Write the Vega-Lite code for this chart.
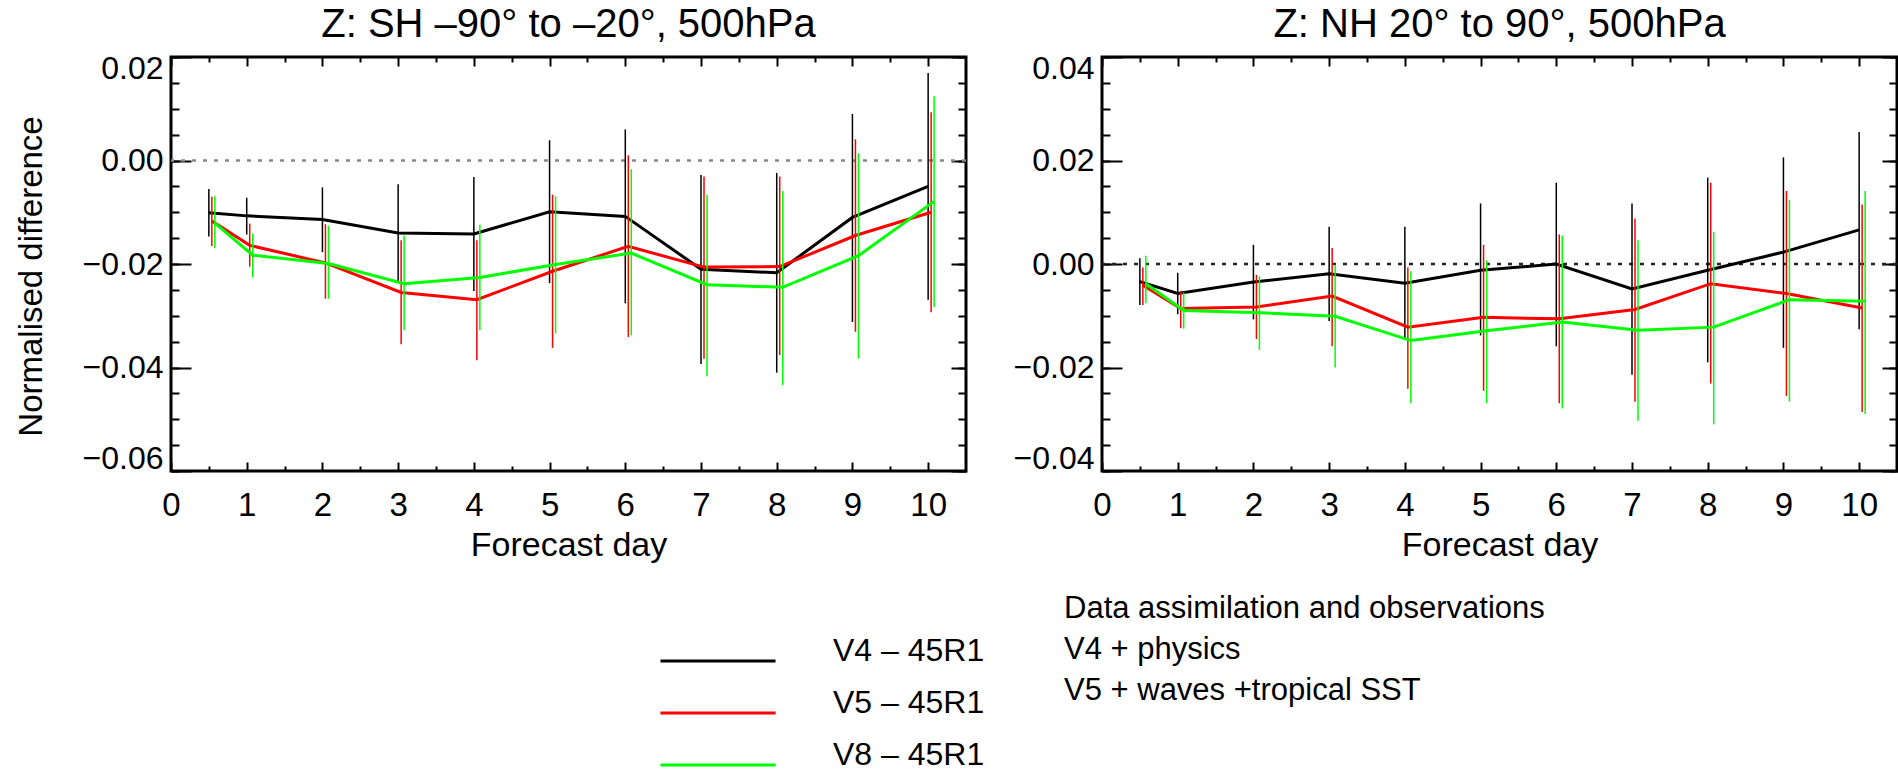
{
  "$schema": "https://vega.github.io/schema/vega-lite/v6.json",
  "padding": {"left": 13, "top": 3, "right": 0, "bottom": 0},
  "spacing": 42,
  "data": {"values": [
    {"panel":"SH","series":"V4 – 45R1","day":0.5,"value":-0.0101,"lo":-0.0147,"hi":-0.0055},
    {"panel":"SH","series":"V4 – 45R1","day":1,"value":-0.0107,"lo":-0.0143,"hi":-0.0072},
    {"panel":"SH","series":"V4 – 45R1","day":2,"value":-0.0114,"lo":-0.0177,"hi":-0.0052},
    {"panel":"SH","series":"V4 – 45R1","day":3,"value":-0.0140,"lo":-0.0234,"hi":-0.0046},
    {"panel":"SH","series":"V4 – 45R1","day":4,"value":-0.0142,"lo":-0.0252,"hi":-0.0032},
    {"panel":"SH","series":"V4 – 45R1","day":5,"value":-0.0099,"lo":-0.0237,"hi":0.0039},
    {"panel":"SH","series":"V4 – 45R1","day":6,"value":-0.0108,"lo":-0.0276,"hi":0.0060},
    {"panel":"SH","series":"V4 – 45R1","day":7,"value":-0.0210,"lo":-0.0393,"hi":-0.0028},
    {"panel":"SH","series":"V4 – 45R1","day":8,"value":-0.0217,"lo":-0.0410,"hi":-0.0024},
    {"panel":"SH","series":"V4 – 45R1","day":9,"value":-0.0110,"lo":-0.0312,"hi":0.0090},
    {"panel":"SH","series":"V4 – 45R1","day":10,"value":-0.0050,"lo":-0.0269,"hi":0.0169},
    {"panel":"SH","series":"V5 – 45R1","day":0.5,"value":-0.0117,"lo":-0.0165,"hi":-0.0070},
    {"panel":"SH","series":"V5 – 45R1","day":1,"value":-0.0164,"lo":-0.0205,"hi":-0.0122},
    {"panel":"SH","series":"V5 – 45R1","day":2,"value":-0.0198,"lo":-0.0267,"hi":-0.0123},
    {"panel":"SH","series":"V5 – 45R1","day":3,"value":-0.0255,"lo":-0.0355,"hi":-0.0154},
    {"panel":"SH","series":"V5 – 45R1","day":4,"value":-0.0269,"lo":-0.0386,"hi":-0.0154},
    {"panel":"SH","series":"V5 – 45R1","day":5,"value":-0.0214,"lo":-0.0362,"hi":-0.0066},
    {"panel":"SH","series":"V5 – 45R1","day":6,"value":-0.0166,"lo":-0.0341,"hi":0.0010},
    {"panel":"SH","series":"V5 – 45R1","day":7,"value":-0.0206,"lo":-0.0383,"hi":-0.0031},
    {"panel":"SH","series":"V5 – 45R1","day":8,"value":-0.0205,"lo":-0.0376,"hi":-0.0031},
    {"panel":"SH","series":"V5 – 45R1","day":9,"value":-0.0145,"lo":-0.0331,"hi":0.0041},
    {"panel":"SH","series":"V5 – 45R1","day":10,"value":-0.0100,"lo":-0.0293,"hi":0.0093},
    {"panel":"SH","series":"V8 – 45R1","day":0.5,"value":-0.0121,"lo":-0.0169,"hi":-0.0069},
    {"panel":"SH","series":"V8 – 45R1","day":1,"value":-0.0183,"lo":-0.0226,"hi":-0.0141},
    {"panel":"SH","series":"V8 – 45R1","day":2,"value":-0.0199,"lo":-0.0267,"hi":-0.0126},
    {"panel":"SH","series":"V8 – 45R1","day":3,"value":-0.0238,"lo":-0.0328,"hi":-0.0145},
    {"panel":"SH","series":"V8 – 45R1","day":4,"value":-0.0226,"lo":-0.0328,"hi":-0.0124},
    {"panel":"SH","series":"V8 – 45R1","day":5,"value":-0.0201,"lo":-0.0334,"hi":-0.0069},
    {"panel":"SH","series":"V8 – 45R1","day":6,"value":-0.0179,"lo":-0.0338,"hi":-0.0017},
    {"panel":"SH","series":"V8 – 45R1","day":7,"value":-0.0240,"lo":-0.0417,"hi":-0.0066},
    {"panel":"SH","series":"V8 – 45R1","day":8,"value":-0.0245,"lo":-0.0434,"hi":-0.0059},
    {"panel":"SH","series":"V8 – 45R1","day":9,"value":-0.0184,"lo":-0.0383,"hi":0.0014},
    {"panel":"SH","series":"V8 – 45R1","day":10,"value":-0.0079,"lo":-0.0283,"hi":0.0124},
    {"panel":"NH","series":"V4 – 45R1","day":0.5,"value":-0.0034,"lo":-0.0079,"hi":0.0011},
    {"panel":"NH","series":"V4 – 45R1","day":1,"value":-0.0057,"lo":-0.0097,"hi":-0.0017},
    {"panel":"NH","series":"V4 – 45R1","day":2,"value":-0.0035,"lo":-0.0107,"hi":0.0037},
    {"panel":"NH","series":"V4 – 45R1","day":3,"value":-0.0019,"lo":-0.0110,"hi":0.0072},
    {"panel":"NH","series":"V4 – 45R1","day":4,"value":-0.0037,"lo":-0.0145,"hi":0.0072},
    {"panel":"NH","series":"V4 – 45R1","day":5,"value":-0.0012,"lo":-0.0138,"hi":0.0117},
    {"panel":"NH","series":"V4 – 45R1","day":6,"value":0.0000,"lo":-0.0159,"hi":0.0157},
    {"panel":"NH","series":"V4 – 45R1","day":7,"value":-0.0048,"lo":-0.0214,"hi":0.0117},
    {"panel":"NH","series":"V4 – 45R1","day":8,"value":-0.0012,"lo":-0.0190,"hi":0.0167},
    {"panel":"NH","series":"V4 – 45R1","day":9,"value":0.0023,"lo":-0.0162,"hi":0.0206},
    {"panel":"NH","series":"V4 – 45R1","day":10,"value":0.0066,"lo":-0.0126,"hi":0.0255},
    {"panel":"NH","series":"V5 – 45R1","day":0.5,"value":-0.0041,"lo":-0.0079,"hi":-0.0007},
    {"panel":"NH","series":"V5 – 45R1","day":1,"value":-0.0086,"lo":-0.0124,"hi":-0.0052},
    {"panel":"NH","series":"V5 – 45R1","day":2,"value":-0.0083,"lo":-0.0145,"hi":-0.0021},
    {"panel":"NH","series":"V5 – 45R1","day":3,"value":-0.0062,"lo":-0.0159,"hi":0.0031},
    {"panel":"NH","series":"V5 – 45R1","day":4,"value":-0.0122,"lo":-0.0241,"hi":-0.0007},
    {"panel":"NH","series":"V5 – 45R1","day":5,"value":-0.0103,"lo":-0.0245,"hi":0.0037},
    {"panel":"NH","series":"V5 – 45R1","day":6,"value":-0.0106,"lo":-0.0269,"hi":0.0057},
    {"panel":"NH","series":"V5 – 45R1","day":7,"value":-0.0088,"lo":-0.0266,"hi":0.0088},
    {"panel":"NH","series":"V5 – 45R1","day":8,"value":-0.0038,"lo":-0.0231,"hi":0.0157},
    {"panel":"NH","series":"V5 – 45R1","day":9,"value":-0.0057,"lo":-0.0255,"hi":0.0141},
    {"panel":"NH","series":"V5 – 45R1","day":10,"value":-0.0085,"lo":-0.0286,"hi":0.0115},
    {"panel":"NH","series":"V8 – 45R1","day":0.5,"value":-0.0038,"lo":-0.0076,"hi":0.0016},
    {"panel":"NH","series":"V8 – 45R1","day":1,"value":-0.0090,"lo":-0.0125,"hi":-0.0055},
    {"panel":"NH","series":"V8 – 45R1","day":2,"value":-0.0094,"lo":-0.0166,"hi":-0.0024},
    {"panel":"NH","series":"V8 – 45R1","day":3,"value":-0.0101,"lo":-0.0200,"hi":-0.0003},
    {"panel":"NH","series":"V8 – 45R1","day":4,"value":-0.0148,"lo":-0.0269,"hi":-0.0014},
    {"panel":"NH","series":"V8 – 45R1","day":5,"value":-0.0129,"lo":-0.0269,"hi":0.0007},
    {"panel":"NH","series":"V8 – 45R1","day":6,"value":-0.0112,"lo":-0.0279,"hi":0.0055},
    {"panel":"NH","series":"V8 – 45R1","day":7,"value":-0.0128,"lo":-0.0303,"hi":0.0046},
    {"panel":"NH","series":"V8 – 45R1","day":8,"value":-0.0122,"lo":-0.0310,"hi":0.0062},
    {"panel":"NH","series":"V8 – 45R1","day":9,"value":-0.0069,"lo":-0.0266,"hi":0.0124},
    {"panel":"NH","series":"V8 – 45R1","day":10,"value":-0.0072,"lo":-0.0290,"hi":0.0141}
  ]},
  "hconcat": [
    {
      "title": {"text": "Z: SH –90° to –20°, 500hPa"},
      "width": 795, "height": 414,
      "transform": [{"filter": "datum.panel == 'SH'"}],
      "resolve": {"axis": {"x": "independent", "y": "independent"}},
      "layer": [
        {
          "data": {"values": [{}]},
          "mark": {"type": "rule", "color": "#888888", "strokeWidth": 2.5},
          "encoding": {
            "y": {"datum": 0, "type": "quantitative", "scale": {"domain": [-0.06, 0.02], "nice": false}, "axis": null},
            "strokeDash": {"datum": "Data assimilation and observations", "type": "nominal",
              "scale": {"domain": ["Data assimilation and observations", "V4 + physics", "V5 + waves +tropical SST"], "range": [[4, 7], [4, 7], [4, 7]]},
              "legend": {"title": null, "legendX": 862, "legendY": 536, "symbolSize": 0, "symbolStrokeWidth": 0, "symbolOpacity": 0, "labelOffset": 0, "labelFontSize": 31, "labelBaseline": "middle", "rowPadding": 9}}
          }
        },
        {
          "transform": [{"filter": "datum.series == 'V4 – 45R1'"}],
          "mark": {"type": "rule", "color": "#000000", "strokeWidth": 1.5},
          "encoding": {
            "x": {"field": "day", "type": "quantitative", "scale": {"domain": [0, 10.5], "nice": false},
              "axis": {"orient": "bottom", "values": [0,1,2,3,4,5,6,7,8,9,10], "ticks": false, "domain": false, "labelFlush": false, "labelOverlap": false, "labelPadding": 18, "labelFontSize": 33, "title": "Forecast day", "titleFontSize": 34, "titlePadding": 6}},
            "y": {"field": "lo", "type": "quantitative", "scale": {"domain": [-0.06, 0.02], "nice": false},
              "axis": {"orient": "left", "values": [-0.06,-0.04,-0.02,0,0.02], "format": ".2f", "ticks": false, "domain": false, "labelFlush": true, "labelFlushOffset": 4, "labelPadding": 8, "labelFontSize": 32, "title": "Normalised difference", "titleFontSize": 33, "titlePadding": 34, "titleY": 219}},
            "y2": {"field": "hi"}
          }
        },
        {
          "transform": [{"filter": "datum.series == 'V4 – 45R1'"}],
          "mark": {"type": "line", "strokeWidth": 3},
          "encoding": {
            "x": {"field": "day", "type": "quantitative", "scale": {"domain": [0, 10.5], "nice": false},
              "axis": {"orient": "bottom", "values": [0,1,2,3,4,5,6,7,8,9,10], "labels": false, "domain": false, "tickSize": -9, "title": null}},
            "y": {"field": "value", "type": "quantitative", "scale": {"domain": [-0.06, 0.02], "nice": false},
              "axis": {"orient": "left", "values": [-0.06,-0.04,-0.02,0,0.02], "labels": false, "domain": false, "tickSize": -20, "title": null}},
            "color": {"field": "series", "type": "nominal", "scale": {"domain": ["V4 – 45R1", "V5 – 45R1", "V8 – 45R1"], "range": ["#000000", "#ff0000", "#00ff00"]},
              "legend": {"title": null, "legendX": 531, "legendY": 588, "symbolType": "M-5,0H5", "symbolSize": 530, "symbolStrokeWidth": 3, "labelFontSize": 32, "labelOffset": 99, "labelBaseline": "alphabetic", "rowPadding": 20}}
          }
        },
        {
          "transform": [{"filter": "datum.series == 'V5 – 45R1'"}],
          "mark": {"type": "rule", "color": "#ff0000", "strokeWidth": 1.5, "xOffset": 3},
          "encoding": {
            "x": {"field": "day", "type": "quantitative", "scale": {"domain": [0, 10.5], "nice": false},
              "axis": {"orient": "bottom", "values": [0.5,1.5,2.5,3.5,4.5,5.5,6.5,7.5,8.5,9.5], "labels": false, "domain": false, "tickSize": -5, "title": null}},
            "y": {"field": "lo", "type": "quantitative", "scale": {"domain": [-0.06, 0.02], "nice": false},
              "axis": {"orient": "left", "values": [-0.06,-0.055,-0.05,-0.045,-0.04,-0.035,-0.03,-0.025,-0.02,-0.015,-0.01,-0.005,0,0.005,0.01,0.015,0.02], "labels": false, "domain": false, "tickSize": -8, "title": null}},
            "y2": {"field": "hi"}
          }
        },
        {
          "transform": [{"filter": "datum.series == 'V5 – 45R1'"}],
          "mark": {"type": "line", "strokeWidth": 3, "xOffset": 3},
          "encoding": {
            "x": {"field": "day", "type": "quantitative", "scale": {"domain": [0, 10.5], "nice": false},
              "axis": {"orient": "top", "values": [0,1,2,3,4,5,6,7,8,9,10], "labels": false, "domain": false, "tickSize": -9, "title": null}},
            "y": {"field": "value", "type": "quantitative", "scale": {"domain": [-0.06, 0.02], "nice": false},
              "axis": {"orient": "right", "values": [-0.06,-0.04,-0.02,0,0.02], "labels": false, "domain": false, "tickSize": -15, "title": null}},
            "color": {"field": "series", "type": "nominal", "scale": {"domain": ["V4 – 45R1", "V5 – 45R1", "V8 – 45R1"], "range": ["#000000", "#ff0000", "#00ff00"]},
              "legend": {"title": null, "legendX": 531, "legendY": 588, "symbolType": "M-5,0H5", "symbolSize": 530, "symbolStrokeWidth": 3, "labelFontSize": 32, "labelOffset": 99, "labelBaseline": "alphabetic", "rowPadding": 20}}
          }
        },
        {
          "transform": [{"filter": "datum.series == 'V8 – 45R1'"}],
          "mark": {"type": "rule", "color": "#00ff00", "strokeWidth": 1.5, "xOffset": 6},
          "encoding": {
            "x": {"field": "day", "type": "quantitative", "scale": {"domain": [0, 10.5], "nice": false},
              "axis": {"orient": "top", "values": [0.5,1.5,2.5,3.5,4.5,5.5,6.5,7.5,8.5,9.5], "labels": false, "domain": false, "tickSize": -5, "title": null}},
            "y": {"field": "lo", "type": "quantitative", "scale": {"domain": [-0.06, 0.02], "nice": false},
              "axis": {"orient": "right", "values": [-0.06,-0.055,-0.05,-0.045,-0.04,-0.035,-0.03,-0.025,-0.02,-0.015,-0.01,-0.005,0,0.005,0.01,0.015,0.02], "labels": false, "domain": false, "tickSize": -8, "title": null}},
            "y2": {"field": "hi"}
          }
        },
        {
          "transform": [{"filter": "datum.series == 'V8 – 45R1'"}],
          "mark": {"type": "line", "strokeWidth": 3, "xOffset": 6},
          "encoding": {
            "x": {"field": "day", "type": "quantitative", "scale": {"domain": [0, 10.5], "nice": false}, "axis": null},
            "y": {"field": "value", "type": "quantitative", "scale": {"domain": [-0.06, 0.02], "nice": false}, "axis": null},
            "color": {"field": "series", "type": "nominal", "scale": {"domain": ["V4 – 45R1", "V5 – 45R1", "V8 – 45R1"], "range": ["#000000", "#ff0000", "#00ff00"]},
              "legend": {"title": null, "legendX": 531, "legendY": 588, "symbolType": "M-5,0H5", "symbolSize": 530, "symbolStrokeWidth": 3, "labelFontSize": 32, "labelOffset": 99, "labelBaseline": "alphabetic", "rowPadding": 20}}
          }
        }
      ]
    },
    {
      "title": {"text": "Z: NH 20° to 90°, 500hPa"},
      "width": 795, "height": 414,
      "transform": [{"filter": "datum.panel == 'NH'"}],
      "resolve": {"axis": {"x": "independent", "y": "independent"}},
      "layer": [
        {
          "data": {"values": [{}]},
          "mark": {"type": "rule", "color": "#222222", "strokeDash": [4, 7], "strokeWidth": 2.5},
          "encoding": {"y": {"datum": 0, "type": "quantitative", "scale": {"domain": [-0.04, 0.04], "nice": false}, "axis": null}}
        },
        {
          "transform": [{"filter": "datum.series == 'V4 – 45R1'"}],
          "mark": {"type": "rule", "color": "#000000", "strokeWidth": 1.5},
          "encoding": {
            "x": {"field": "day", "type": "quantitative", "scale": {"domain": [0, 10.5], "nice": false},
              "axis": {"orient": "bottom", "values": [0,1,2,3,4,5,6,7,8,9,10], "ticks": false, "domain": false, "labelFlush": false, "labelOverlap": false, "labelPadding": 18, "labelFontSize": 33, "title": "Forecast day", "titleFontSize": 34, "titlePadding": 6}},
            "y": {"field": "lo", "type": "quantitative", "scale": {"domain": [-0.04, 0.04], "nice": false},
              "axis": {"orient": "left", "values": [-0.04,-0.02,0,0.02,0.04], "format": ".2f", "ticks": false, "domain": false, "labelFlush": true, "labelFlushOffset": 4, "labelPadding": 8, "labelFontSize": 32, "title": null}},
            "y2": {"field": "hi"}
          }
        },
        {
          "transform": [{"filter": "datum.series == 'V4 – 45R1'"}],
          "mark": {"type": "line", "strokeWidth": 3},
          "encoding": {
            "x": {"field": "day", "type": "quantitative", "scale": {"domain": [0, 10.5], "nice": false},
              "axis": {"orient": "bottom", "values": [0,1,2,3,4,5,6,7,8,9,10], "labels": false, "domain": false, "tickSize": -9, "title": null}},
            "y": {"field": "value", "type": "quantitative", "scale": {"domain": [-0.04, 0.04], "nice": false},
              "axis": {"orient": "left", "values": [-0.04,-0.02,0,0.02,0.04], "labels": false, "domain": false, "tickSize": -20, "title": null}},
            "color": {"field": "series", "type": "nominal", "scale": {"domain": ["V4 – 45R1", "V5 – 45R1", "V8 – 45R1"], "range": ["#000000", "#ff0000", "#00ff00"]},
              "legend": {"title": null, "legendX": 531, "legendY": 588, "symbolType": "M-5,0H5", "symbolSize": 530, "symbolStrokeWidth": 3, "labelFontSize": 32, "labelOffset": 99, "labelBaseline": "alphabetic", "rowPadding": 20}}
          }
        },
        {
          "transform": [{"filter": "datum.series == 'V5 – 45R1'"}],
          "mark": {"type": "rule", "color": "#ff0000", "strokeWidth": 1.5, "xOffset": 3},
          "encoding": {
            "x": {"field": "day", "type": "quantitative", "scale": {"domain": [0, 10.5], "nice": false},
              "axis": {"orient": "bottom", "values": [0.5,1.5,2.5,3.5,4.5,5.5,6.5,7.5,8.5,9.5], "labels": false, "domain": false, "tickSize": -5, "title": null}},
            "y": {"field": "lo", "type": "quantitative", "scale": {"domain": [-0.04, 0.04], "nice": false},
              "axis": {"orient": "left", "values": [-0.04,-0.035,-0.03,-0.025,-0.02,-0.015,-0.01,-0.005,0,0.005,0.01,0.015,0.02,0.025,0.03,0.035,0.04], "labels": false, "domain": false, "tickSize": -8, "title": null}},
            "y2": {"field": "hi"}
          }
        },
        {
          "transform": [{"filter": "datum.series == 'V5 – 45R1'"}],
          "mark": {"type": "line", "strokeWidth": 3, "xOffset": 3},
          "encoding": {
            "x": {"field": "day", "type": "quantitative", "scale": {"domain": [0, 10.5], "nice": false},
              "axis": {"orient": "top", "values": [0,1,2,3,4,5,6,7,8,9,10], "labels": false, "domain": false, "tickSize": -9, "title": null}},
            "y": {"field": "value", "type": "quantitative", "scale": {"domain": [-0.04, 0.04], "nice": false},
              "axis": {"orient": "right", "values": [-0.04,-0.02,0,0.02,0.04], "labels": false, "domain": false, "tickSize": -15, "title": null}},
            "color": {"field": "series", "type": "nominal", "scale": {"domain": ["V4 – 45R1", "V5 – 45R1", "V8 – 45R1"], "range": ["#000000", "#ff0000", "#00ff00"]},
              "legend": {"title": null, "legendX": 531, "legendY": 588, "symbolType": "M-5,0H5", "symbolSize": 530, "symbolStrokeWidth": 3, "labelFontSize": 32, "labelOffset": 99, "labelBaseline": "alphabetic", "rowPadding": 20}}
          }
        },
        {
          "transform": [{"filter": "datum.series == 'V8 – 45R1'"}],
          "mark": {"type": "rule", "color": "#00ff00", "strokeWidth": 1.5, "xOffset": 6},
          "encoding": {
            "x": {"field": "day", "type": "quantitative", "scale": {"domain": [0, 10.5], "nice": false},
              "axis": {"orient": "top", "values": [0.5,1.5,2.5,3.5,4.5,5.5,6.5,7.5,8.5,9.5], "labels": false, "domain": false, "tickSize": -5, "title": null}},
            "y": {"field": "lo", "type": "quantitative", "scale": {"domain": [-0.04, 0.04], "nice": false},
              "axis": {"orient": "right", "values": [-0.04,-0.035,-0.03,-0.025,-0.02,-0.015,-0.01,-0.005,0,0.005,0.01,0.015,0.02,0.025,0.03,0.035,0.04], "labels": false, "domain": false, "tickSize": -8, "title": null}},
            "y2": {"field": "hi"}
          }
        },
        {
          "transform": [{"filter": "datum.series == 'V8 – 45R1'"}],
          "mark": {"type": "line", "strokeWidth": 3, "xOffset": 6},
          "encoding": {
            "x": {"field": "day", "type": "quantitative", "scale": {"domain": [0, 10.5], "nice": false}, "axis": null},
            "y": {"field": "value", "type": "quantitative", "scale": {"domain": [-0.04, 0.04], "nice": false}, "axis": null},
            "color": {"field": "series", "type": "nominal", "scale": {"domain": ["V4 – 45R1", "V5 – 45R1", "V8 – 45R1"], "range": ["#000000", "#ff0000", "#00ff00"]},
              "legend": {"title": null, "legendX": 531, "legendY": 588, "symbolType": "M-5,0H5", "symbolSize": 530, "symbolStrokeWidth": 3, "labelFontSize": 32, "labelOffset": 99, "labelBaseline": "alphabetic", "rowPadding": 20}}
          }
        }
      ]
    }
  ],
  "config": {
    "font": "Liberation Sans",
    "view": {"stroke": "#000000", "strokeWidth": 3},
    "axis": {"grid": false, "labelColor": "#000000", "titleColor": "#000000", "tickColor": "#000000", "tickWidth": 2, "labelFont": "Liberation Sans", "titleFont": "Liberation Sans", "titleFontWeight": "normal"},
    "title": {"fontSize": 40, "fontWeight": "normal", "font": "Liberation Sans", "color": "#000000", "anchor": "middle", "frame": "group", "offset": 7},
    "legend": {"orient": "none", "padding": 0, "labelFont": "Liberation Sans", "labelColor": "#000000", "labelLimit": 900}
  }
}
